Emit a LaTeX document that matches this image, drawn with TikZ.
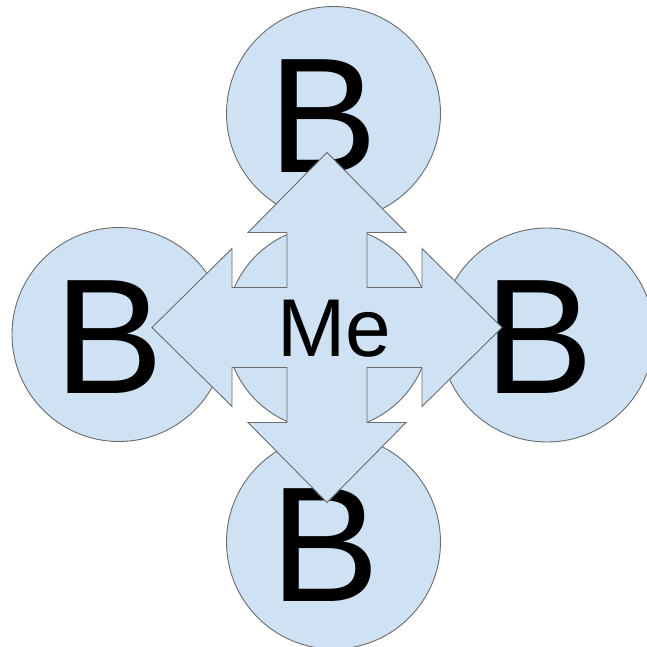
\documentclass[tikz,border=0pt]{standalone}
\usepackage{fontspec}
\setmainfont{Liberation Sans}
\definecolor{bubblefill}{HTML}{CFE2F3}
\definecolor{bubbleline}{HTML}{6B6B6B}
\begin{document}
\begin{tikzpicture}[x=1pt,y=-1pt,
  bubble/.style={circle, draw=bubbleline, fill=bubblefill, line width=0.9pt,
                 inner sep=0pt, minimum size=#1},
  bigletter/.style={font=\fontsize{164}{164}\selectfont, inner sep=0pt, anchor=base},
  centerword/.style={font=\fontsize{82}{82}\selectfont, inner sep=0pt, anchor=base},
  quadarrow/.style={draw=bubbleline, fill=bubblefill, line width=0.9pt, line join=miter}]
\clip (0,0) rectangle (647,647);

% hub and the four satellites
\node[bubble=204pt] (hub) at (328,328) {};
\node[bubble=214pt] (north) at (333.5,113.5) {};
\node[bubble=214pt] (west) at (119,334.5) {};
\node[bubble=214pt] (east) at (547,335) {};
\node[bubble=214pt] (south) at (333.5,542) {};

\node[bigletter] (northB) at (323,172) {B};
\node[bigletter] (westB) at (109,393.3) {B};
\node[bigletter] (eastB) at (539,393.3) {B};
\node[bigletter] (southB) at (325,601.7) {B};

% four-way arrow over the hub
\coordinate (qa) at (327,327.5);
\begin{scope}[shift={(qa)}]
\draw[quadarrow]
  (0,-175) -- (79,-95) -- (40,-95) -- (40,-40) -- (95,-40) -- (95,-79)
  -- (175,0) -- (95,79) -- (95,40) -- (40,40) -- (40,95) -- (79,95)
  -- (0,175) -- (-79,95) -- (-40,95) -- (-40,40) -- (-95,40) -- (-95,79)
  -- (-175,0) -- (-95,-79) -- (-95,-40) -- (-40,-40) -- (-40,-95) -- (-79,-95)
  -- cycle;
\end{scope}

\node[centerword] (me) at (334,356.7) {Me};
\end{tikzpicture}
\end{document}
